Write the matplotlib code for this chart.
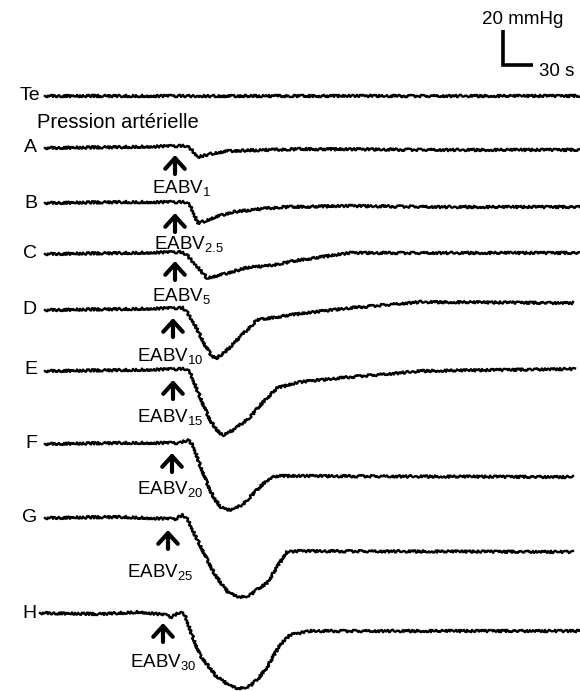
import matplotlib
matplotlib.use("Agg")
import matplotlib.pyplot as plt

plt.rcParams['font.family'] = ['Liberation Sans', 'DejaVu Sans']
plt.rcParams['mathtext.fontset'] = 'custom'
plt.rcParams['mathtext.rm'] = 'Liberation Sans'

W, H = 580, 691
PX_PER_MMHG = 1.75   # 20 mmHg scale bar is 35 px tall
T0_PX = 45           # trace start (t = 0 s), 1 px = 1 s

# ---- data: time (s) and pressure change from baseline (mmHg) ----
te_t = [0, 535]
te_p = [0, 0]

a_t = [0, 75, 140, 145, 153, 165, 182, 255, 405, 535]
a_p = [0, 0.5, 1.2, 0, -5.1, -3.4, -1.7, -0.6, -1.1, -1.1]

b_t = [0, 75, 140, 145, 153, 160, 170, 188, 215, 238, 305, 405, 535]
b_p = [0, 0.5, 0.5, -1.1, -11.4, -10.3, -8.0, -5.1, -3.4, -2.3, -1.7, -2.3, -2.3]

c_t = [0, 85, 135, 141, 151, 162, 175, 205, 222, 255, 305, 405, 535]
c_p = [0, 0.6, 1.1, 0, -6.3, -13.7, -12.0, -7.4, -6.9, -3.4, 0.6, 0.6, 0.6]

d_t = [0, 85, 138, 142, 150, 160, 167, 172, 180, 195, 212, 245, 305, 375, 528]
d_p = [-0.6, 0, 0.6, -1.7, -9.1, -20.6, -26.9, -28.0, -24.6, -16.0, -6.3, -3.4,
       0.6, 4.0, 3.4]

e_t = [0, 85, 140, 145, 153, 165, 173, 179, 190, 205, 220, 232, 255, 305, 355,
       375, 530]
e_p = [-0.6, 0, 0.6, -1.1, -12.6, -28.6, -35.4, -37.1, -33.7, -26.9, -17.1,
       -10.3, -6.9, -4.0, -1.7, -0.6, 0.6]

f_t = [0, 75, 135, 143, 148, 155, 165, 170, 176, 183, 190, 198, 205, 217, 225,
       232, 255, 528]
f_p = [0, 0.6, 0.6, 2.3, -0.6, -12.0, -26.3, -32.0, -36.0, -37.7, -37.1, -34.3,
       -30.3, -23.4, -19.4, -18.3, -18.3, -18.9]

g_t = [0, 75, 130, 138, 143, 150, 160, 170, 183, 190, 198, 205, 213, 222, 232,
       242, 255, 528]
g_p = [0, 0.6, -0.6, 1.7, -1.1, -9.7, -21.1, -32.6, -42.3, -44.6, -45.1, -44.0,
       -40.6, -37.1, -28.0, -19.4, -18.9, -19.4]

h_t = [-5, 55, 95, 120, 127, 135, 140, 147, 155, 170, 185, 191, 197, 205, 213,
       222, 235, 245, 265, 535]
h_p = [0, -0.6, 0.6, -1.1, -2.3, 0.6, -1.1, -12.6, -24.0, -35.4, -41.7, -42.9,
       -42.9, -41.7, -37.7, -30.9, -18.3, -12.6, -10.3, -10.3]

letters = ["Te", "A", "B", "C", "D", "E", "F", "G", "H"]
doses = ["1", "2.5", "5", "10", "15", "20", "25", "30"]

# ---- layout (pixels in the reference picture) ----
base_py = [96, 148, 203, 254, 309, 370, 444, 518, 613]
arrow_px = [175, 175, 175, 173, 173, 172, 168, 163]
arrow_tip_py = [155, 213, 261, 318, 380, 453, 530, 623]
label_px = [152, 154, 152, 137, 137, 137, 127, 130]
label_base_py = [194, 250, 302, 362, 423, 495, 578, 668]


def to_data(px, py):
    return px - T0_PX, (H - py) / PX_PER_MMHG


fig = plt.figure(figsize=(W / 100, H / 100), dpi=100)
ax = fig.add_axes([0, 0, 1, 1])
ax.set_xlim(-T0_PX, W - T0_PX)
ax.set_ylim(0, H / PX_PER_MMHG)
ax.axis('off')

traces = [(te_t, te_p), (a_t, a_p), (b_t, b_p), (c_t, c_p), (d_t, d_p),
          (e_t, e_p), (f_t, f_p), (g_t, g_p), (h_t, h_p)]

for (t, p), by, name in zip(traces, base_py, letters):
    off = to_data(0, by)[1]
    line, = ax.plot(t, [v + off for v in p], color='black', lw=1.7,
                    solid_joinstyle='round')
    line.set_sketch_params(scale=1.2, length=3, randomness=3)
    lx = 40 if name == "Te" else 37
    ax.text(*to_data(lx, by), name, fontsize=14, ha='right', va='center')

ax.text(*to_data(37, 122), "Pression artérielle", fontsize=14.5, va='center')

# stimulation arrows + labels
for i, dose in enumerate(doses):
    x0, ytip = to_data(arrow_px[i], arrow_tip_py[i])
    _, ybot = to_data(arrow_px[i], arrow_tip_py[i] + 19)
    ax.annotate("", xy=(x0, ytip), xytext=(x0, ybot),
                arrowprops=dict(arrowstyle="->,head_length=0.55,head_width=0.5",
                                lw=3.0, color='black', shrinkA=0, shrinkB=0,
                                mutation_scale=14))
    ax.text(*to_data(label_px[i], label_base_py[i]),
            "EABV$_{\\mathregular{" + dose + "}}$",
            fontsize=13.5, va='baseline', ha='left')

# scale bar: 20 mmHg / 30 s
sx, sy = to_data(503, 65)
ax.plot([sx, sx, sx + 30], [sy + 20, sy, sy], color='black', lw=2.6,
        solid_joinstyle='miter', solid_capstyle='butt')
ax.text(*to_data(482, 20), "20 mmHg", fontsize=13.5, va='center', ha='left')
ax.text(*to_data(539, 71), "30 s", fontsize=13.5, va='center', ha='left')

fig.savefig("out.png", dpi=100)
